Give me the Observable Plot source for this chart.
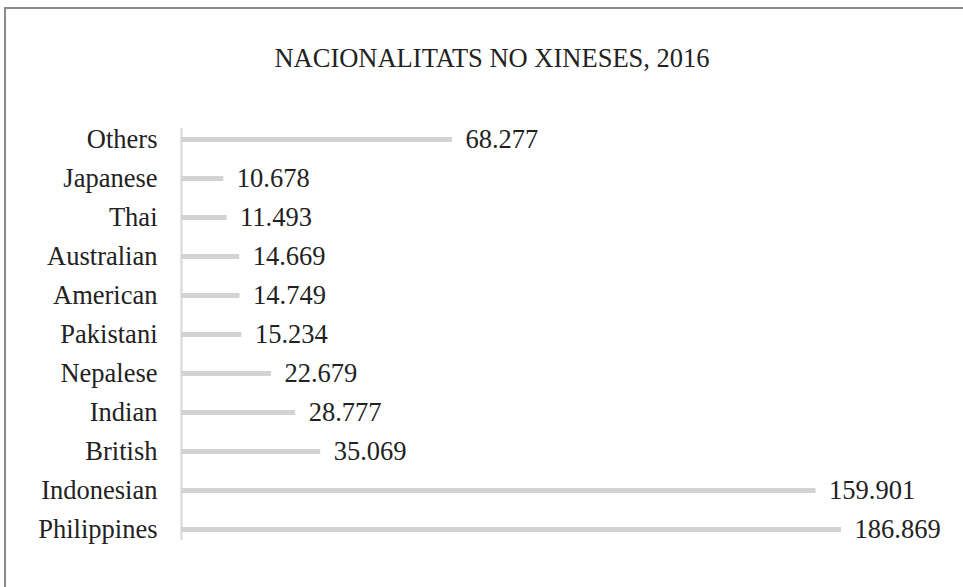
<!DOCTYPE html>
<html>
<head>
<meta charset="utf-8">
<script src="https://cdn.jsdelivr.net/npm/d3@7"></script>
<script src="https://cdn.jsdelivr.net/npm/@observablehq/plot@0.6"></script>
<style>
  html, body { margin: 0; padding: 0; width: 963px; height: 587px; overflow: hidden; background: #fff; }
  #frame { position: absolute; left: 4px; top: 7px; width: 1200px; height: 800px;
           border-left: 2px solid #8a8a8a; border-top: 2px solid #8a8a8a; }
  #title { position: absolute; left: 0; top: 45px; width: 984px; text-align: center;
           font-family: "Liberation Serif", "DejaVu Serif", serif; font-size: 26.5px; line-height: 26.5px; color: #222; }
  #chart { position: absolute; left: 0; top: 0; }
</style>
</head>
<body>
<div id="frame"></div>
<div id="title">NACIONALITATS NO XINESES, 2016</div>
<div id="chart"></div>
<script>
const nationalities = ["Others", "Japanese", "Thai", "Australian", "American", "Pakistani", "Nepalese", "Indian", "British", "Indonesian", "Philippines"];
const residents = [68277, 10678, 11493, 14669, 14749, 15234, 22679, 28777, 35069, 159901, 186869];

const data = nationalities.map((name, i) => ({name, value: residents[i]}));
const fmt = d3.formatLocale({decimal: ",", thousands: ".", grouping: [3], currency: ["", ""]}).format(",d");

const chart = Plot.plot({
  width: 963,
  height: 587,
  marginLeft: 181,
  marginRight: 122,
  marginTop: 128,
  marginBottom: 47,
  style: {fontFamily: "'Liberation Serif', 'DejaVu Serif', serif", fontSize: "26.5px", color: "#222", background: "transparent"},
  x: {domain: [0, 166320], clamp: true, axis: null},
  y: {type: "point", domain: nationalities, padding: 0, inset: 7, axis: null},
  marks: [
    Plot.ruleX([0], {stroke: "#dedede", strokeWidth: 2.5}),
    Plot.ruleY(data, {y: "name", x1: 0, x2: "value", stroke: "#d3d3d3", strokeWidth: 5}),
    Plot.text(data, {x: "value", y: "name", text: d => fmt(d.value), dx: 13, textAnchor: "start", fill: "#222", fontSize: 26.5}),
    Plot.axisY({tickSize: 0, tickPadding: 24, fontSize: 26.5, label: null, fill: "#222"})
  ]
});
document.getElementById("chart").appendChild(chart);
</script>
</body>
</html>
